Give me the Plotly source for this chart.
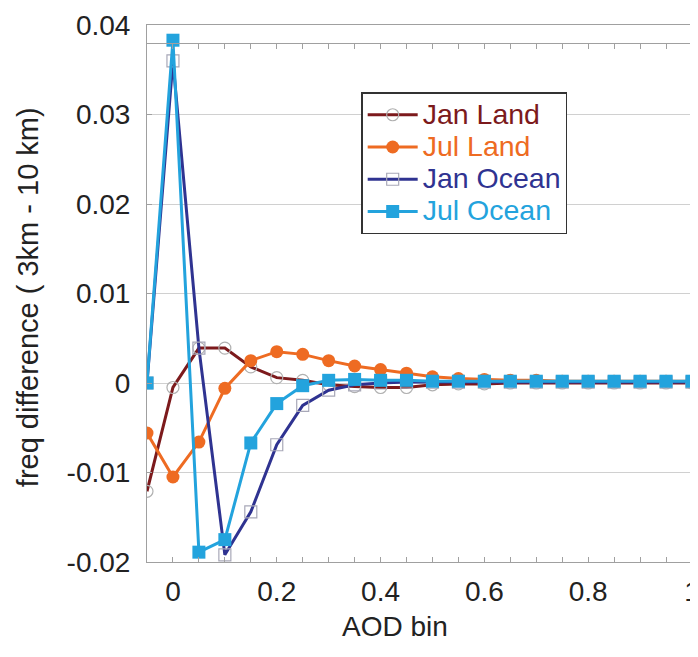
import plotly.graph_objects as go

aod_bins = [-0.05, 0.0, 0.05, 0.1, 0.15, 0.2, 0.25, 0.3, 0.35, 0.4, 0.45, 0.5,
            0.55, 0.6, 0.65, 0.7, 0.75, 0.8, 0.85, 0.9, 0.95, 1.0]

jan_land = [-0.0121, -0.0005, 0.0039, 0.0039, 0.0018, 0.0006, 0.0003, -0.0002,
            -0.0004, -0.0005, -0.0005, -0.0002, -0.0001, -0.0001, 0.0, 0.0,
            0.0, 0.0, 0.0, 0.0, 0.0, 0.0]
jul_land = [-0.0056, -0.0105, -0.0066, -0.0006, 0.0025, 0.0035, 0.0032, 0.0025,
            0.0019, 0.0015, 0.0011, 0.0007, 0.0005, 0.0004, 0.0003, 0.0003,
            0.0002, 0.0002, 0.0002, 0.0002, 0.0002, 0.0002]
jan_ocean = [0.0, 0.0360, 0.0039, -0.0192, -0.0144, -0.0069, -0.0025, -0.0008,
             -0.0002, 0.0, 0.0001, 0.0001, 0.0001, 0.0001, 0.0001, 0.0001,
             0.0001, 0.0001, 0.0001, 0.0001, 0.0001, 0.0001]
jul_ocean = [0.0, 0.0383, -0.0189, -0.0175, -0.0067, -0.0023, -0.0003, 0.0003,
             0.0004, 0.0003, 0.0003, 0.0002, 0.0002, 0.0002, 0.0002, 0.0002,
             0.0002, 0.0002, 0.0002, 0.0002, 0.0002, 0.0002]

series_names = ["Jan Land", "Jul Land", "Jan Ocean", "Jul Ocean"]
y_tick_vals = [-0.02, -0.01, 0.0, 0.01, 0.02, 0.03, 0.04]
y_tick_text = ["-0.02", "-0.01", "0", "0.01", "0.02", "0.03", "0.04"]
x_tick_vals = [0.0, 0.2, 0.4, 0.6, 0.8, 1.0]
x_tick_text = ["0", "0.2", "0.4", "0.6", "0.8", "1"]

FONT = "Liberation Sans, Arial, sans-serif"
c_jan_land = "#7c1a1c"
c_jul_land = "#ee6b22"
c_jan_ocean = "#2f3391"
c_jul_ocean = "#23a3dd"

def lbl(name, color):
    return f"<span style='color:{color};font-size:28.5px'>{name}</span>"

fig = go.Figure()
fig.add_trace(go.Scatter(
    x=aod_bins, y=jan_land, mode="lines+markers", name=lbl(series_names[0], c_jan_land),
    line=dict(color=c_jan_land, width=3),
    marker=dict(symbol="circle-open", size=12, color="#b0b0b0", line=dict(width=1.2, color="#b0b0b0"))))
fig.add_trace(go.Scatter(
    x=aod_bins, y=jul_land, mode="lines+markers", name=lbl(series_names[1], c_jul_land),
    line=dict(color=c_jul_land, width=3),
    marker=dict(symbol="circle", size=13, color=c_jul_land)))
fig.add_trace(go.Scatter(
    x=aod_bins, y=jan_ocean, mode="lines+markers", name=lbl(series_names[2], c_jan_ocean),
    line=dict(color=c_jan_ocean, width=3),
    marker=dict(symbol="square-open", size=12, color="#a8a8b8", line=dict(width=1.2, color="#a8a8b8"))))
fig.add_trace(go.Scatter(
    x=aod_bins, y=jul_ocean, mode="lines+markers", name=lbl(series_names[3], c_jul_ocean),
    line=dict(color=c_jul_ocean, width=3),
    marker=dict(symbol="square", size=13, color=c_jul_ocean)))
# empty trace to activate the secondary (inner top) tick line
fig.add_trace(go.Scatter(x=[], y=[], xaxis="x2", showlegend=False, hoverinfo="skip"))

axis_line = "#a0a0a0"
fig.update_layout(
    width=698, height=657,
    margin=dict(l=139, r=14, t=17, b=103, autoexpand=False),
    paper_bgcolor="white", plot_bgcolor="white",
    font=dict(family=FONT, size=28, color="#222222"),
    xaxis=dict(range=[-0.05, 1.0], tickvals=x_tick_vals, ticktext=x_tick_text,
               ticks="inside", ticklen=5, tickcolor=axis_line,
               minor=dict(dtick=0.05, tick0=0, ticks="inside", ticklen=5, tickcolor=axis_line),
               showgrid=False, zeroline=False, showline=True, linecolor=axis_line,
               linewidth=1, mirror=True, ticklabelstandoff=4, automargin=False,
               ticklabeloverflow="allow", tickfont=dict(size=28)),
    yaxis=dict(range=[-0.02, 0.04], tickvals=y_tick_vals, ticktext=y_tick_text,
               ticks="inside", ticklen=5, tickcolor=axis_line,
               showgrid=True, gridcolor="#d0d0d0", gridwidth=1, zeroline=False,
               showline=True, linecolor=axis_line, linewidth=1, mirror=True,
               ticklabelstandoff=10, automargin=False, tickfont=dict(size=28)),
    xaxis2=dict(overlaying="x", anchor="free", position=0.9665, side="top",
                range=[-0.05, 1.0], dtick=0.05, tick0=0, ticks="inside", ticklen=5,
                tickcolor=axis_line, showticklabels=False, showgrid=False,
                zeroline=False, showline=True, linecolor=axis_line, linewidth=1,
                automargin=False),
    legend=dict(x=0.393, y=0.875, xanchor="left", yanchor="top",
                bgcolor="white", bordercolor="#333333", borderwidth=1.5,
                font=dict(family=FONT, size=22.5), itemwidth=50,
                tracegroupgap=0),
    showlegend=True,
    annotations=[
        dict(text="AOD bin", xref="paper", yref="paper", x=0.455, y=-0.121,
             xanchor="center", yanchor="middle", showarrow=False,
             font=dict(family=FONT, size=28, color="#222222")),
        dict(text="freq difference ( 3km - 10 km)", xref="paper", yref="paper",
             x=-0.218, y=0.4935, xanchor="center", yanchor="middle", textangle=-90,
             showarrow=False, font=dict(family=FONT, size=29, color="#222222")),
    ],
)

fig.write_html("out.html")
